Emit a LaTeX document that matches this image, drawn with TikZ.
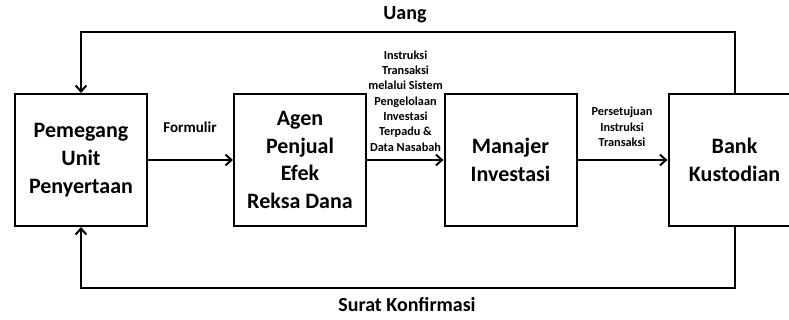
\documentclass[tikz,border=0pt]{standalone}
\usepackage{fontspec}
\setmainfont{Carlito}
\usetikzlibrary{arrows.meta}
\begin{document}
\begin{tikzpicture}[x=0.75pt,y=-0.75pt,
  box/.style={draw,line width=1.5pt,minimum width=99pt,minimum height=99pt,align=center,inner sep=0pt,
    font=\bfseries\fontsize{16.5}{20.8}\selectfont},
  lbl/.style={align=center,inner sep=0pt,font=\bfseries\fontsize{9.2}{11.5}\selectfont},
  midlbl/.style={inner sep=0pt,font=\bfseries\fontsize{11.3}{13}\selectfont},
  biglbl/.style={inner sep=0pt,font=\bfseries\fontsize{15}{18}\selectfont},
  conn/.style={line width=1.5pt,-{Straight Barb[length=4.5pt,width=8pt]}}]
\useasboundingbox (0,0) rectangle (789,320);
\node[box] (p) at (81,160) {Pemegang\\Unit\\Penyertaan};
\node[box] (a) at (300,160) {Agen\\Penjual\\Efek\\Reksa Dana};
\node[box] (m) at (510.5,160) {Manajer\\Investasi};
\node[box] (b) at (734.5,160) {Bank\\Kustodian};
\draw[conn] (p) -- (a);
\draw[conn] (a) -- (m);
\draw[conn] (m) -- (b);
\coordinate (tr) at (734.5,32);
\coordinate (tl) at (81,32);
\coordinate (br) at (734.5,288);
\coordinate (bl) at (81,288);
\draw[conn] (b.north) -- (tr) -- (tl) -- (p.north);
\draw[conn] (b.south) -- (br) -- (bl) -- (p.south);
\node[biglbl] (uang) at (405,15) {Uang};
\node[biglbl] (surat) at (407,305) {Surat Konfirmasi};
\node[midlbl] (form) at (190,127) {Formulir};
\node[lbl] (instr) at (405.5,101) {Instruksi\\Transaksi\\melalui Sistem\\Pengelolaan\\Investasi\\Terpadu \&\\Data Nasabah};
\node[lbl] (pers) at (622,127) {Persetujuan\\Instruksi\\Transaksi};
\end{tikzpicture}
\end{document}
